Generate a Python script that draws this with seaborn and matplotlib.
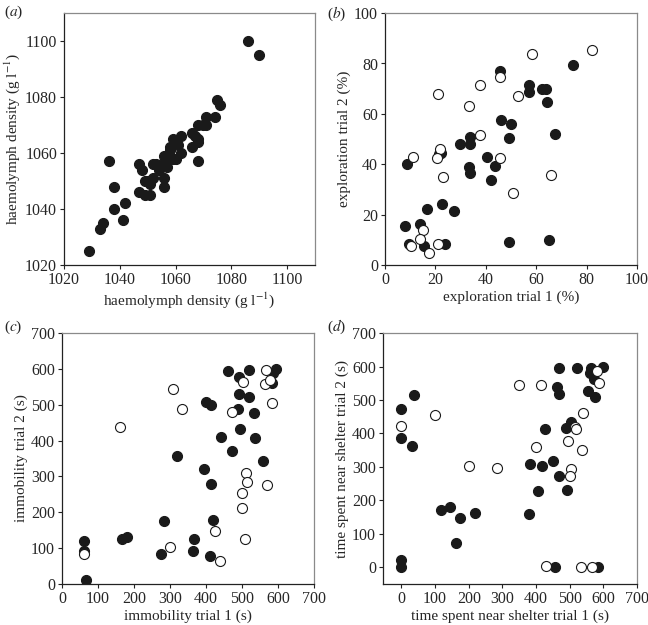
import numpy as np
import pandas as pd
import matplotlib
matplotlib.use("Agg")
import matplotlib.pyplot as plt
import seaborn as sns

# (a) haemolymph density, trial 1 vs trial 2 (g/l)
dens_x = [1029, 1033, 1034, 1036, 1038, 1038, 1041, 1042, 1047, 1048, 1047, 1049, 1051,
          1049, 1050, 1051, 1052, 1052, 1053, 1054, 1055, 1056, 1056, 1057, 1057, 1056,
          1058, 1058, 1059, 1059, 1060, 1061, 1062, 1062, 1066, 1066, 1067, 1068, 1068,
          1068, 1068, 1070, 1071, 1071, 1074, 1075, 1076, 1086, 1090]
dens_y = [1025, 1033, 1035, 1057, 1048, 1040, 1036, 1042, 1056, 1054, 1046, 1045, 1045,
          1050, 1050, 1049, 1051, 1056, 1056, 1054, 1056, 1051, 1048, 1055, 1058, 1059,
          1061, 1062, 1065, 1058, 1058, 1063, 1066, 1060, 1062, 1067, 1066, 1065, 1064,
          1057, 1070, 1070, 1070, 1073, 1073, 1079, 1077, 1100, 1095]

# (b) exploration (%)
expl_fill_x = [74.6, 45.8, 57.3, 57.3, 62.4, 64.1, 64.3, 46.2, 50.1, 67.4, 49.3, 33.9, 33.9,
               29.7, 22.1, 21.4, 8.9, 40.6, 43.5, 33.3, 33.9, 42.1, 16.8, 22.5, 27.6, 8.0,
               13.9, 9.5, 15.5, 24.0, 49.4, 65.1]
expl_fill_y = [79.3, 77.2, 71.5, 68.5, 69.8, 69.8, 64.9, 57.6, 56.0, 51.9, 50.3, 51.0, 48.1,
               48.1, 44.4, 44.1, 40.1, 43.0, 39.3, 38.8, 36.4, 33.8, 22.1, 24.2, 21.3, 15.6,
               16.3, 8.2, 7.5, 8.2, 9.0, 9.8]
expl_open_x = [82.3, 58.5, 37.8, 45.8, 21.1, 52.8, 33.4, 37.6, 21.8, 20.5, 11.0, 45.6, 23.1,
               65.8, 50.7, 15.3, 13.9, 10.2, 21.0, 17.6]
expl_open_y = [85.2, 83.7, 71.3, 74.8, 67.7, 67.0, 63.3, 51.7, 46.1, 42.3, 43.0, 42.3, 35.1,
               35.8, 28.5, 13.9, 10.3, 7.5, 8.2, 4.6]

# (c) immobility (s)
imm_fill_x = [462, 492, 520, 594, 587, 583, 492, 520, 490, 533, 399, 415, 494, 441, 536, 472,
              320, 395, 559, 414, 283, 419, 367, 363, 276, 410, 62, 62, 68, 167, 180]
imm_fill_y = [595, 578, 596, 599, 589, 561, 530, 522, 489, 476, 507, 500, 432, 409, 407, 372,
              357, 322, 342, 278, 177, 178, 125, 92, 84, 77, 120, 93, 12, 125, 130]
imm_open_x = [309, 333, 566, 504, 563, 579, 582, 472, 511, 514, 569, 501, 499, 424, 507, 300,
              439, 62, 160]
imm_open_y = [543, 487, 598, 565, 559, 569, 504, 480, 309, 284, 275, 255, 212, 147, 125, 104,
              65, 83, 437]

# (d) time spent near shelter (s)
shel_fill_x = [469, 523, 564, 598, 561, 573, 461, 468, 553, 574, 504, 489, 427, 451, 383, 418,
               468, 405, 492, 378, 457, 584, 36, 0, 0, 31, 118, 143, 174, 219, 162, 0, 0]
shel_fill_y = [595, 596, 596, 598, 581, 564, 539, 519, 527, 510, 435, 416, 414, 319, 308, 302,
               272, 229, 230, 160, 0, 0, 516, 472, 385, 362, 170, 179, 146, 163, 74, 23, 0]
shel_open_x = [350, 415, 581, 586, 539, 516, 519, 494, 399, 536, 285, 505, 501, 431, 535, 567,
               0, 100, 200]
shel_open_y = [546, 546, 588, 552, 462, 418, 412, 377, 359, 350, 298, 294, 274, 3, 0, 0,
               423, 456, 302]

sns.set_style("ticks")
plt.rcParams['font.family'] = ['Liberation Serif', 'DejaVu Serif']
plt.rcParams['mathtext.fontset'] = 'stix'
plt.rcParams['font.size'] = 11

fig = plt.figure(figsize=(6.48, 6.25), dpi=100)
ax_a = fig.add_axes([0.0988, 0.576, 0.3872, 0.403])
ax_b = fig.add_axes([0.594, 0.576, 0.389, 0.403])
ax_c = fig.add_axes([0.0957, 0.0656, 0.3889, 0.4014])
ax_d = fig.add_axes([0.591, 0.0656, 0.392, 0.4014])

dot = dict(s=52, linewidth=0.8, edgecolor='#1a1a1a', legend=False)


def scatter_pair(ax, fx, fy, ox=None, oy=None):
    sns.scatterplot(x=fx, y=fy, ax=ax, color='#1a1a1a', **dot)
    if ox is not None:
        sns.scatterplot(x=ox, y=oy, ax=ax, color='white', **dot)


def style_axes(ax, lims, ticks, xlabel, ylabel, tag, tag_xy):
    ax.set_xlim(lims[0])
    ax.set_ylim(lims[1])
    ax.set_xticks(ticks)
    ax.set_yticks(ticks)
    ax.set_xlabel(xlabel, fontsize=11, labelpad=2)
    ax.set_ylabel(ylabel, fontsize=11, labelpad=2)
    ax.tick_params(direction='out', length=3, width=0.8, labelsize=11.5, pad=2, color='#222222')
    for side in ['left', 'bottom']:
        ax.spines[side].set_color('#222222')
        ax.spines[side].set_linewidth(0.9)
    for side in ['top', 'right']:
        ax.spines[side].set_visible(True)
        ax.spines[side].set_color('#8a8a8a')
        ax.spines[side].set_linewidth(0.9)
    fig.text(tag_xy[0], tag_xy[1], tag, fontsize=11)


scatter_pair(ax_a, dens_x, dens_y)
style_axes(ax_a, [(1020, 1110), (1020, 1110)], [1020, 1040, 1060, 1080, 1100],
           r'haemolymph density (g l$^{-1}$)', r'haemolymph density (g l$^{-1}$)',
           r'($a$)', (0.006, 0.975))

scatter_pair(ax_b, expl_fill_x, expl_fill_y, expl_open_x, expl_open_y)
style_axes(ax_b, [(0, 100), (0, 100)], [0, 20, 40, 60, 80, 100],
           'exploration trial 1 (%)', 'exploration trial 2 (%)',
           r'($b$)', (0.505, 0.972))

scatter_pair(ax_c, imm_fill_x, imm_fill_y, imm_open_x, imm_open_y)
style_axes(ax_c, [(0, 700), (0, 700)], list(range(0, 701, 100)),
           'immobility trial 1 (s)', 'immobility trial 2 (s)',
           r'($c$)', (0.006, 0.47))

scatter_pair(ax_d, shel_fill_x, shel_fill_y, shel_open_x, shel_open_y)
style_axes(ax_d, [(-55, 700), (-50, 700)], list(range(0, 701, 100)),
           'time spent near shelter trial 1 (s)', 'time spent near shelter trial 2 (s)',
           r'($d$)', (0.505, 0.47))

fig.savefig('out.png', dpi=100)
